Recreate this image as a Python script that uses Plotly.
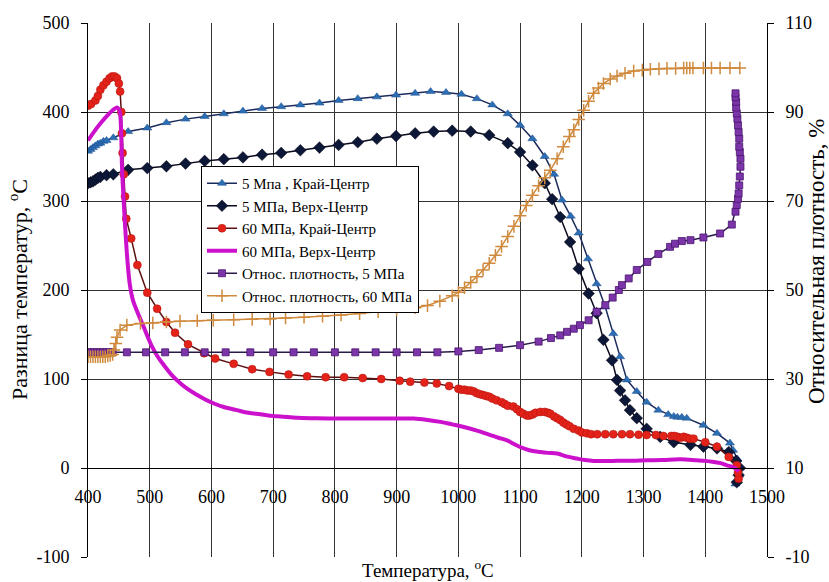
import plotly.graph_objects as go

# ---------------- data ----------------
# 5 MPa, Край-Центр (left axis)
blue_x = [400, 404, 408, 412, 416, 420, 425, 430, 441, 465, 496, 527, 558, 589, 620, 651, 682, 713, 744,
          775, 806, 837, 868, 899, 930, 955, 980, 1005, 1030, 1055, 1080, 1100, 1120, 1140, 1155, 1168,
          1182, 1195, 1210, 1224, 1238, 1251, 1262, 1273, 1289, 1305, 1324, 1340, 1349, 1355, 1362, 1370,
          1397, 1419, 1440, 1445, 1452, 1456, 1455, 1452, 1449]
blue_y = [356, 358, 360, 362, 364, 365, 367, 368, 371, 378, 382, 388, 392, 395, 398, 401, 404, 406, 408,
          410, 413, 415, 417, 419, 421, 423, 422, 420, 415, 408, 398, 385, 370, 350, 330, 301,
          283, 264, 235, 207, 181, 151, 125, 99, 86, 74, 65, 60, 58, 57, 57, 56,
          48, 39, 28, 20, 10, 0, -8, -15, -18]

# 5 MPa, Верх-Центр (left axis)
black_x = [400, 404, 408, 412, 416, 420, 430, 441, 465, 496, 527, 558, 589, 620, 651, 682, 713, 744, 775,
           806, 837, 868, 899, 930, 960, 990, 1020, 1050, 1080, 1100, 1120, 1140, 1152, 1165, 1181, 1195,
           1211, 1224, 1235, 1249, 1257, 1262, 1270, 1278, 1289, 1305, 1327, 1349, 1376, 1397, 1419,
           1438, 1450, 1456, 1454, 1451]
black_y = [320, 321, 322, 324, 326, 327, 329, 330, 335, 337, 339, 342, 345, 347, 349, 352, 354, 357, 360,
           363, 366, 370, 373, 376, 378, 379, 378, 374, 365, 355, 340, 320, 302, 282, 254, 224,
           196, 174, 144, 121, 99, 87, 76, 65, 56, 44, 35, 29, 26, 24, 22,
           18, 8, 0, -8, -16]

# 60 MPa, Край-Центр (left axis)
red_x = [400, 405, 412, 416, 420, 425, 430, 435, 439, 443, 447, 450, 452, 454, 455, 456, 458, 460, 462,
         470, 480, 496, 512, 527, 541, 562, 588, 606, 636, 666, 694, 725, 755, 785, 815, 845, 875,
         905, 922, 945, 965, 985, 1000, 1005, 1010, 1015, 1020, 1025, 1030, 1035, 1040, 1045, 1050,
         1055, 1062, 1070, 1075, 1080, 1089, 1095, 1100, 1105, 1111, 1115, 1120, 1125, 1133, 1140,
         1145, 1149, 1155, 1160, 1165, 1170, 1175, 1180, 1187, 1195, 1200, 1208, 1215, 1225, 1238,
         1251, 1265, 1278, 1292, 1305, 1320, 1332, 1345, 1350, 1355, 1360, 1365, 1370, 1375, 1381,
         1400, 1419, 1438, 1451, 1454, 1453]
red_y = [407, 409, 413, 418, 425, 430, 434, 438, 440, 440, 438, 432, 423, 400, 376, 354, 330, 305, 280,
         258, 228, 197, 179, 164, 152, 139, 129, 123, 117, 111, 108, 105, 103, 102, 102, 101, 100,
         98, 97, 96, 95, 92, 89, 88, 88, 87, 87, 86, 84, 83, 82, 81, 80,
         78, 76, 74, 72, 70, 69, 66, 63, 61, 59, 59, 60, 62, 63, 63,
         62, 61, 58, 56, 54, 51, 49, 47, 44, 42, 40, 39, 38, 38, 38,
         38, 38, 38, 37.5, 37, 37, 36, 36, 36, 35, 34, 35, 34, 33, 33,
         29, 24, 12.5, 3, -12, -5]

# 60 MPa, Верх-Центр (left axis)
pink_x = [400, 410, 420, 430, 440, 447, 450, 452, 454, 455, 457, 459, 461, 464, 468, 473, 479, 485, 490,
          497, 504, 513, 523, 535, 550, 563, 577, 590, 604, 620, 641, 660, 679, 700, 712, 740, 770,
          800, 830, 860, 900, 928, 950, 971, 990, 1009, 1030, 1052, 1065, 1079, 1090, 1100, 1115,
          1133, 1145, 1160, 1175, 1192, 1205, 1219, 1250, 1280, 1306, 1330, 1360, 1386, 1400, 1414,
          1425, 1435, 1443, 1449, 1454]
pink_y = [368, 378, 387, 395, 402, 405, 403, 398, 370, 340, 310, 285, 262, 232, 205, 188, 177, 167, 159,
          147, 136, 125, 115.5, 105, 95, 88, 82, 77, 72.5, 68.5, 65, 62, 60.4, 58.5, 58, 56.5, 55.8,
          55.6, 55.6, 55.6, 55.6, 55.6, 54, 51.8, 49, 46, 42, 37, 34, 31, 27, 23.6, 20,
          18, 17, 16.2, 13, 10.6, 9, 8, 8, 8.2, 8.7, 9, 9.8, 8.7, 8, 6.8,
          5.5, 3, 1.5, -0.7, -4]

# Относ. плотность, 5 МПа (right axis)
purple_x = [400, 405, 410, 415, 420, 425, 430, 435, 440, 463, 494, 525, 557, 589, 623, 663, 700, 733, 766,
            800, 833, 866, 900, 933, 966, 1000, 1033, 1066, 1100, 1130, 1150, 1165, 1176, 1187, 1197,
            1211, 1224, 1238, 1250, 1260, 1265, 1276, 1289, 1306, 1324, 1343, 1351, 1362, 1376, 1397,
            1424, 1443, 1449, 1451, 1453, 1454, 1455, 1456, 1457, 1457, 1456, 1455, 1455, 1454, 1453,
            1452, 1451, 1450, 1450, 1449, 1449]
purple_y = [36, 36, 36, 36, 36, 36, 36, 36, 36, 36, 36, 36, 36, 36, 36, 36, 36, 36, 36,
            36, 36, 36, 36, 36, 36, 36.2, 36.5, 37, 37.6, 38.4, 39.2, 39.8, 40.6, 41.3, 42.1,
            43.2, 45.1, 46.6, 48.3, 50, 51.1, 52.6, 54.5, 56.3, 58.1, 59.7, 60.4, 61, 61.2, 61.8,
            62.7, 64.7, 67.6, 69.1, 70.5, 71.7, 73.5, 75.5, 77.7, 79.5, 81, 82.2, 84, 85.5, 87,
            88.5, 89.7, 91, 92.3, 93.3, 94.2]

# Относ. плотность, 60 МПа (right axis)
orange_x = [400, 404, 408, 412, 416, 420, 424, 428, 432, 436, 440, 442, 445, 447, 452, 463, 485, 505, 527,
            549, 577, 603, 636, 666, 695, 720, 750, 780, 810, 840, 870, 900, 930, 950, 970, 990, 1000,
            1010, 1020, 1030, 1040, 1050, 1060, 1070, 1080, 1090, 1100, 1110, 1120, 1130, 1140, 1149,
            1160, 1170, 1180, 1187, 1195, 1203, 1211, 1219, 1227, 1235, 1246, 1257, 1270, 1284, 1298,
            1311, 1325, 1338, 1352, 1365, 1370, 1375, 1380, 1397, 1410, 1424, 1440, 1456]
orange_y = [35, 35, 35, 35, 35, 35, 35, 35, 35.2, 35.3, 35.5, 36.5, 38, 39.4, 41, 42.1, 42.5, 42.6, 42.8,
            43, 43.1, 43.2, 43.3, 43.4, 43.5, 43.7, 43.9, 44.1, 44.4, 44.7, 45.1, 45.5, 46, 46.5, 47.5,
            48.7, 49.5, 50.5, 51.7, 53, 54.5, 56, 57.8, 59.8, 62, 64.3, 66.7, 69, 71.3, 73.4, 75.2, 76.9,
            79.5, 82.2, 84.5, 86, 88.3, 90.4, 92.4, 94.2, 95.4, 96.4, 97.4, 98.1, 98.7, 99.2, 99.4,
            99.6, 99.7, 99.8, 99.8, 99.9, 99.9, 99.9, 99.9, 99.9, 99.9, 99.9, 99.9, 99.9]

names = ["5 Мпа , Край-Центр", "5 МПа, Верх-Центр", "60 МПа, Край-Центр",
         "60 МПа, Верх-Центр", "Относ. плотность, 5 МПа", "Относ. плотность, 60 МПа"]

x_ticks = [400, 500, 600, 700, 800, 900, 1000, 1100, 1200, 1300, 1400, 1500]
left_ticks = [-100, 0, 100, 200, 300, 400, 500]
right_ticks = [-10, 10, 30, 50, 70, 90, 110]

# ---------------- figure ----------------
FONT = "Liberation Serif, Times New Roman, serif"
W, H = 829, 582
ML, MR, MT, MB = 88, 62, 23, 25
PW = W - ML - MR
PH = H - MT - MB

fig = go.Figure()

fig.add_trace(go.Scatter(x=blue_x, y=blue_y, name=names[0], mode="lines+markers",
                         line=dict(color="#1B2B5B", width=1.5),
                         marker=dict(symbol="triangle-up", size=8, color="#2C6EB4",
                                     line=dict(color="#1F4F8F", width=0.5))))
fig.add_trace(go.Scatter(x=black_x, y=black_y, name=names[1], mode="lines+markers",
                         line=dict(color="#0A0A1E", width=1.5),
                         marker=dict(symbol="diamond", size=9, color="#0D1838",
                                     line=dict(color="#050510", width=0.5))))
fig.add_trace(go.Scatter(x=red_x, y=red_y, name=names[2], mode="lines+markers",
                         line=dict(color="#5A1010", width=1.5),
                         marker=dict(symbol="circle", size=8, color="#E3221A",
                                     line=dict(color="#B01410", width=0.5))))
fig.add_trace(go.Scatter(x=pink_x, y=pink_y, name=names[3], mode="lines",
                         line=dict(color="#CC11CC", width=4, shape="spline")))
fig.add_trace(go.Scatter(x=purple_x, y=purple_y, name=names[4], mode="lines+markers", yaxis="y2",
                         line=dict(color="#2A1A4A", width=1.5),
                         marker=dict(symbol="square", size=7, color="#7B35A8",
                                     line=dict(color="#4A1570", width=0.8))))
fig.add_trace(go.Scatter(x=orange_x, y=orange_y, name=names[5], mode="lines+markers", yaxis="y2",
                         line=dict(color="#CF8A3E", width=1.5),
                         marker=dict(symbol="cross-thin", size=9, color="#CF8A3E",
                                     line=dict(color="#CF8A3E", width=1.5))))

zero_pos = (0 - (-100)) / 600.0

fig.update_layout(
    width=W, height=H,
    margin=dict(l=ML, r=MR, t=MT, b=MB, autoexpand=False),
    paper_bgcolor="white", plot_bgcolor="white",
    font=dict(family=FONT, size=18, color="black"),
    showlegend=True,
    legend=dict(x=(201 - ML) / PW, y=(H - MB - 166) / PH, xanchor="left", yanchor="top",
                bgcolor="white", bordercolor="black", borderwidth=1,
                font=dict(family=FONT, size=15, color="black"),
                tracegroupgap=0, itemwidth=30),
    xaxis=dict(range=[400, 1500], tickvals=x_ticks, ticktext=[str(v) for v in x_ticks],
               showgrid=True, gridcolor="#333333", gridwidth=1,
               showline=True, linecolor="black", linewidth=1,
               anchor="free", position=zero_pos,
               ticks="", ticklabelstandoff=12, zeroline=False, mirror=False,
               tickfont=dict(family=FONT, size=18)),
    yaxis=dict(range=[-100, 500], tickvals=left_ticks, ticktext=[str(v) for v in left_ticks],
               showgrid=True, gridcolor="#333333", gridwidth=1,
               zeroline=True, zerolinecolor="black", zerolinewidth=1,
               showline=True, linecolor="black", linewidth=1,
               ticks="outside", ticklen=6, tickcolor="black", ticklabelstandoff=8,
               tickfont=dict(family=FONT, size=18)),
    yaxis2=dict(range=[-10, 110], tickvals=right_ticks, ticktext=[str(v) for v in right_ticks],
                overlaying="y", side="right", showgrid=False, zeroline=False,
                showline=True, linecolor="black", linewidth=1,
                ticks="outside", ticklen=6, tickcolor="black", ticklabelstandoff=8,
                tickfont=dict(family=FONT, size=18)),
    annotations=[
        dict(text="Температура, <sup>o</sup>C", xref="paper", yref="paper",
             x=0.5, y=-(569 - (H - MB)) / PH, xanchor="center", yanchor="middle",
             showarrow=False, font=dict(family=FONT, size=19)),
        dict(text="Разница температур, <sup>o</sup>C", xref="paper", yref="paper",
             x=-(ML - 18) / PW, y=(H - MB - 290) / PH, xanchor="center", yanchor="middle", textangle=-90,
             showarrow=False, font=dict(family=FONT, size=22)),
        dict(text="Относительная плотность, %", xref="paper", yref="paper",
             x=1 + (816 - (W - MR)) / PW, y=(H - MB - 262) / PH, xanchor="center", yanchor="middle",
             textangle=-90, showarrow=False, font=dict(family=FONT, size=23)),
    ],
)

fig.write_html("out.html", config={"displayModeBar": False},
               post_script="document.body.style.margin='0px';")
